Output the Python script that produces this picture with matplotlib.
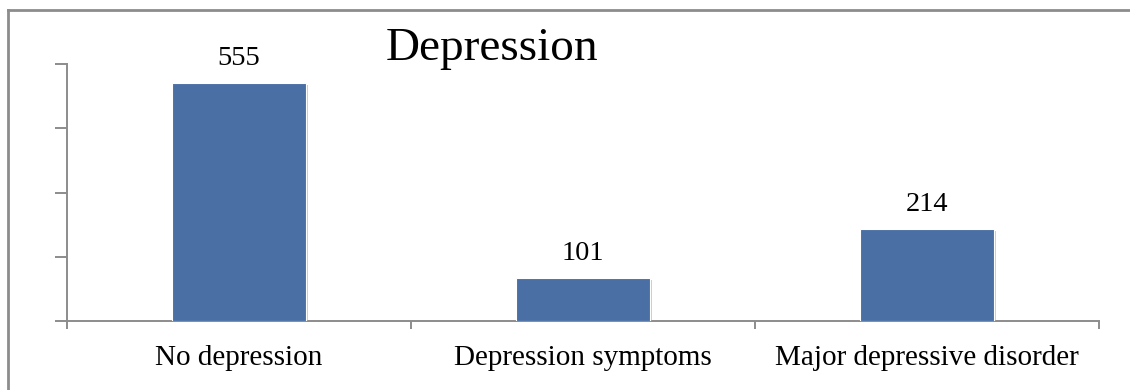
import matplotlib
matplotlib.use("Agg")
import matplotlib.pyplot as plt
import matplotlib.patheffects as pe
from matplotlib.lines import Line2D

categories = ["No depression", "Depression symptoms", "Major depressive disorder"]
counts = [555, 101, 214]
y_ticks = [0, 150, 300, 450, 600]

BAR_COLOR = "#4A6FA5"
AXIS_GRAY = "#8C8C8C"

plt.rcParams["font.family"] = ["Liberation Serif", "DejaVu Serif"]

fig = plt.figure(figsize=(11.3, 3.9), dpi=100)
ax = fig.add_axes([67 / 1130, 1 - 321 / 390, (1099 - 67) / 1130, (321 - 64) / 390])

x = list(range(len(categories)))
bars = ax.bar(x, counts, width=0.39, color=BAR_COLOR, edgecolor="white", linewidth=0.8,
              zorder=3)
for b in bars:
    b.set_path_effects([pe.SimplePatchShadow(offset=(1.5, -1.5), shadow_rgbFace="#9a9a9a",
                                             alpha=0.5), pe.Normal()])

for xi, v in zip(x, counts):
    ax.annotate(str(v), (xi, v), xytext=(0, 13), textcoords="offset points",
                ha="center", va="baseline", fontsize=20.5, color="black")

ax.set_xlim(-0.5, len(categories) - 0.5)
ax.set_ylim(y_ticks[0], y_ticks[-1])
ax.set_yticks(y_ticks)
ax.set_yticklabels([])
ax.tick_params(axis="y", direction="out", length=8.5, width=1.4, color=AXIS_GRAY)

ax.set_xticks(x)
ax.set_xticklabels(categories, fontsize=21)
ax.tick_params(axis="x", which="major", length=0, pad=17.5)
ax.set_xticks([i - 0.5 for i in range(len(categories) + 1)], minor=True)
ax.tick_params(axis="x", which="minor", direction="out", length=5.5, width=1.4,
               color=AXIS_GRAY)

for side in ("top", "right"):
    ax.spines[side].set_visible(False)
for side in ("left", "bottom"):
    ax.spines[side].set_color(AXIS_GRAY)
    ax.spines[side].set_linewidth(1.4)

fig.text(492 / 1130, 1 - 60 / 390, "Depression", ha="center", va="baseline", fontsize=34)

# outer chart frame (open on the right and bottom edges)
fx, fy = 8 / 1130, 1 - 10 / 390
fig.add_artist(Line2D([fx, fx], [-0.1, fy], transform=fig.transFigure, color=AXIS_GRAY,
                      linewidth=2))
fig.add_artist(Line2D([fx, 1.1], [fy, fy], transform=fig.transFigure, color=AXIS_GRAY,
                      linewidth=2))

fig.savefig("out.png", dpi=100)
